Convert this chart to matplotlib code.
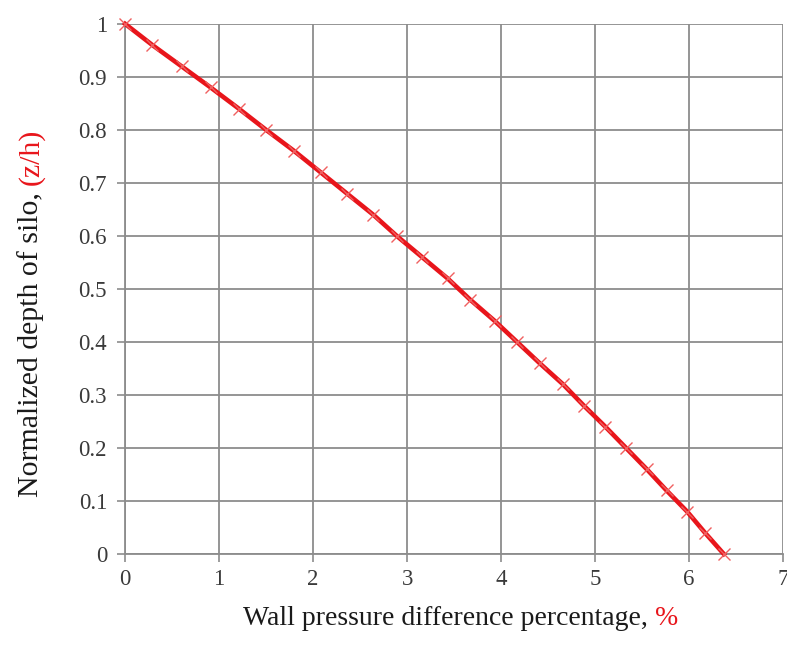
import matplotlib
matplotlib.use("Agg")
import matplotlib.pyplot as plt

# Wall pressure difference (%) versus normalized silo depth z/h
depth = [1.00, 0.96, 0.92, 0.88, 0.84, 0.80, 0.76, 0.72, 0.68, 0.64, 0.60, 0.56, 0.52,
         0.48, 0.44, 0.40, 0.36, 0.32, 0.28, 0.24, 0.20, 0.16, 0.12, 0.08, 0.04, 0.00]
pressure_diff = [0.00, 0.29, 0.60, 0.91, 1.21, 1.50, 1.80, 2.08, 2.36, 2.64, 2.89, 3.16, 3.43,
                 3.67, 3.93, 4.17, 4.41, 4.66, 4.88, 5.11, 5.33, 5.55, 5.76, 5.98, 6.17, 6.37]

x_ticks = [0, 1, 2, 3, 4, 5, 6, 7]
y_ticks = [0, 0.1, 0.2, 0.3, 0.4, 0.5, 0.6, 0.7, 0.8, 0.9, 1]
y_tick_labels = ["0", "0.1", "0.2", "0.3", "0.4", "0.5", "0.6", "0.7", "0.8", "0.9", "1"]

RED = "#e8151b"
plt.rcParams["font.family"] = ["Liberation Serif", "DejaVu Serif"]

fig = plt.figure(figsize=(7.87, 6.45), dpi=100)
ax = fig.add_axes([0.159, 0.141, 0.836, 0.822])

ax.plot(pressure_diff, depth, color=RED, lw=3.3, zorder=3,
        marker="x", markersize=8, markeredgewidth=1.0,
        markeredgecolor="#f06060", clip_on=False)

ax.set_xlim(0, 7)
ax.set_ylim(0, 1)
ax.set_xticks(x_ticks)
ax.set_yticks(y_ticks)
ax.set_yticklabels(y_tick_labels)
ax.grid(True, color="#8c8c8c", lw=1.3)
ax.set_axisbelow(True)
for side in ("top", "right"):
    ax.spines[side].set_visible(False)
for side in ("left", "bottom"):
    ax.spines[side].set_color("#8c8c8c")
    ax.spines[side].set_linewidth(1.3)
ax.tick_params(axis="both", direction="out", length=6, width=1.2, color="#8c8c8c",
               labelsize=16.5, labelcolor="#3a3a3a")
ax.tick_params(axis="y", pad=7)
ax.tick_params(axis="x", pad=5)


def draw_label(parts, start, rotation, size):
    """Draw consecutive text pieces in different colours from a baseline start point."""
    renderer = fig.canvas.get_renderer()
    x, y = start
    for text, color in parts:
        t = fig.text(x, y, text, color=color, fontsize=size, rotation=rotation,
                     ha="left", va="baseline", rotation_mode="anchor")
        bb = t.get_window_extent(renderer=renderer)
        if rotation == 0:
            x += bb.width / fig.bbox.width
        else:
            y += bb.height / fig.bbox.height


fig.canvas.draw()
draw_label([("Wall pressure difference percentage, ", "#1a1a1a"), ("%", RED)],
           (243 / 787, 1 - 625 / 645), 0, size=20)
draw_label([("Normalized depth of silo, ", "#1a1a1a"), ("(z/h)", RED)],
           (38 / 787, 1 - 497 / 645), 90, size=21.5)

fig.savefig("out.png", dpi=100)
